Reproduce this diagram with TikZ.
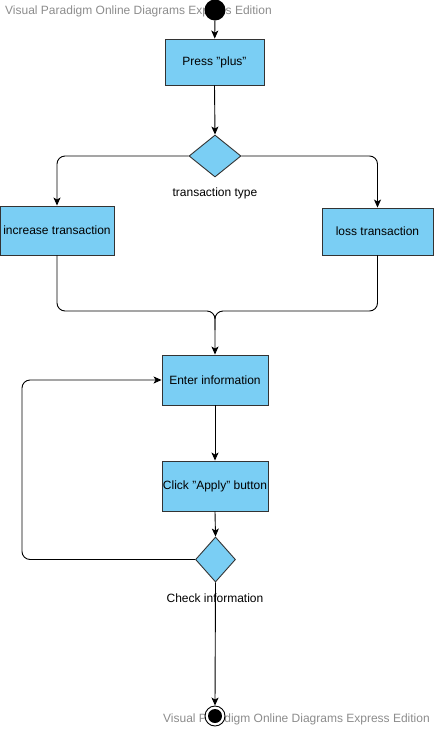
\documentclass[tikz,border=0pt]{standalone}
\usepackage{fontspec}
\setmainfont{Liberation Sans}
\usetikzlibrary{arrows.meta,shapes.geometric}
\definecolor{boxblue}{HTML}{7ACEF4}
\definecolor{wmgray}{HTML}{8C8C8C}
\definecolor{edge}{HTML}{333333}
\begin{document}
\begin{tikzpicture}[x=1pt,y=-1pt,
  txt/.style={font=\fontsize{12}{14}\selectfont},
  act/.style={txt,draw=edge,fill=boxblue,line width=0.9pt,inner sep=0pt,align=center},
  dec/.style={diamond,draw=edge,fill=boxblue,line width=0.9pt,inner sep=0pt},
  wm/.style={font=\fontsize{12}{14}\selectfont,text=wmgray,anchor=west,inner sep=0pt},
  flow/.style={line width=0.9pt,-{Stealth[length=8pt,width=7pt,inset=2pt]}},
  plain/.style={line width=0.9pt},
  rc/.style={rounded corners=8pt}]
\useasboundingbox (0,0) rectangle (435,729);
% watermarks
\node[wm] (wmtop) at (5,11) {Visual Paradigm Online Diagrams Express Edition};
\node[wm] (wmbot) at (163,719) {Visual Paradigm Online Diagrams Express Edition};
% start
\node[circle,fill=black,minimum size=21pt,inner sep=0pt] (start) at (215,10) {};
% activities
\node[act,minimum width=99pt,minimum height=46pt] (press) at (214.5,62) {Press "plus"};
\node[dec,minimum width=52pt,minimum height=42pt] (d1) at (215,156) {};
\node[txt,inner sep=0pt] (l1) at (215,193) {transaction type};
\node[act,minimum width=114pt,minimum height=49pt] (inc) at (57,230.5) {increase transaction};
\node[act,minimum width=111pt,minimum height=47pt] (loss) at (377.5,231.5) {loss transaction};
\node[act,minimum width=106pt,minimum height=50pt] (enter) at (215,380) {Enter information};
\node[act,minimum width=106pt,minimum height=50pt] (click) at (215,486) {Click "Apply" button};
\node[dec,minimum width=40pt,minimum height=45pt] (d2) at (215.5,559.5) {};
\node[txt,inner sep=0pt] (l2) at (215,598) {Check information};
% end
\node[circle,draw=black,fill=white,line width=0.9pt,minimum size=20pt,inner sep=0pt] (endn) at (215,716) {};
\node[circle,fill=black,minimum size=14pt,inner sep=0pt] (endin) at (endn.center) {};
% helper coordinates
\coordinate (merge) at (215,311);
\coordinate (loop) at (22,380);
% connectors
\draw[flow] (start) -- (press);
\draw[flow] (press.south) -- (d1.north);
\draw[flow,rc] (d1.west) -| (inc.north);
\draw[flow,rc] (d1.east) -| (loss.north);
\draw[plain,rc] (inc.south) |- (merge) -- (215,330);
\draw[flow,rc] (loss.south) |- (merge) -- (enter.north);
\draw[flow] (enter.south) -- (click.north);
\draw[flow] (click.south) -- (d2.north);
\draw[flow,rc] (d2.west) -| (loop) -- (enter.west);
\draw[flow] (d2.south) -- (endn.north);
\end{tikzpicture}
\end{document}
